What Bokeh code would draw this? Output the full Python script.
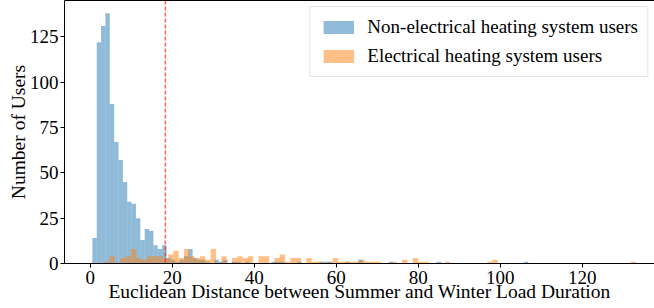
import numpy as np
from bokeh.plotting import figure
from bokeh.models import Range1d, LinearAxis, Span, Legend, LegendItem, FixedTicker, ColumnDataSource
from bokeh.embed import file_html
from bokeh.resources import INLINE

# ---------------- data ----------------
x_ticks = [0, 20, 40, 60, 80, 100, 120]
y_ticks = [0, 25, 50, 75, 100, 125]

threshold = 18.3

blue_bin_start = 0.5
blue_bin_width = 1.063
blue_counts = [
    14, 122, 131, 138, 88, 67, 57, 45, 34, 33,
    25, 13, 19, 18, 10, 8, 10, 3, 2, 1,
    2, 4, 8, 3, 2, 2, 1, 0, 2, 1,
    2, 0, 1, 1, 0, 1, 0, 0, 0, 0,
    0, 1, 1, 1, 0, 0, 0, 1, 0, 0,
    0, 0, 1, 1, 1, 0, 0, 0, 1, 0,
    0, 2, 0, 0, 0, 0, 0, 0, 1, 0,
    0, 0, 0, 0, 0, 0, 0, 0, 0, 1,
    0, 0, 0, 0, 0, 0, 0, 0, 0, 0,
    0, 0, 0, 0, 0, 0, 0, 0, 0, 1,
]

orange_bin_start = 3.4
orange_bin_width = 1.297
orange_counts = [
    1, 4, 0, 3, 4, 8, 3, 2, 4, 4,
    4, 3, 5, 7, 3, 8, 4, 3, 4, 2,
    8, 0, 4, 0, 3, 4, 3, 4, 0, 4,
    4, 0, 3, 5, 1, 3, 3, 0, 3, 1,
    1, 0, 1, 3, 1, 1, 1, 1, 2, 1,
    1, 1, 0, 0, 1, 0, 2, 0, 3, 1,
    1, 0, 0, 0, 1, 0, 0, 0, 0, 0,
    0, 0, 1, 2, 0, 0, 0, 0, 0, 0,
    0, 0, 0, 0, 0, 0, 0, 0, 0, 0,
    0, 0, 0, 0, 0, 0, 0, 0, 0, 1,
]

labels = ["Non-electrical heating system users", "Electrical heating system users"]

# ---------------- build ----------------
FONT = "'Liberation Serif', serif"

def hist_source(start, width, counts):
    counts = np.array(counts, dtype=float)
    n = len(counts)
    left = start + width * np.arange(n)
    return ColumnDataSource(dict(left=left, right=left + width, top=counts, bottom=np.zeros(n)))

src_b = hist_source(blue_bin_start, blue_bin_width, blue_counts)
src_o = hist_source(orange_bin_start, orange_bin_width, orange_counts)

p = figure(width=654, height=308, output_backend="svg", toolbar_location=None,
           x_range=Range1d(-6.3, 137.6), y_range=Range1d(0, 145),
           min_border_left=64, min_border_right=0, min_border_top=0, min_border_bottom=45)
p.grid.visible = False
p.outline_line_color = None
p.background_fill_color = "white"
p.border_fill_color = "white"

rb = p.quad(left="left", right="right", top="top", bottom="bottom", source=src_b,
            fill_color="#1f77b4", fill_alpha=0.5, line_color=None)
ro = p.quad(left="left", right="right", top="top", bottom="bottom", source=src_o,
            fill_color="#ff7f0e", fill_alpha=0.5, line_color=None)

p.add_layout(Span(location=threshold, dimension="height", line_color="red",
                  line_alpha=0.6, line_width=1.6, line_dash="4 2"))

for ax in (p.xaxis[0], p.yaxis[0]):
    ax.major_label_text_font = FONT
    ax.major_label_text_font_size = "19px"
    ax.major_label_text_color = "black"
    ax.axis_label_text_font = FONT
    ax.axis_label_text_font_size = "19.5px"
    ax.axis_label_text_font_style = "normal"
    ax.axis_label_text_color = "black"
    ax.axis_line_color = "black"
    ax.major_tick_line_color = "black"
    ax.major_tick_in = 0
    ax.major_tick_out = 4
    ax.minor_tick_line_color = None

p.xaxis.ticker = FixedTicker(ticks=x_ticks)
p.yaxis.ticker = FixedTicker(ticks=y_ticks)
p.xaxis.axis_label = "Euclidean Distance between Summer and Winter Load Duration"
p.yaxis.axis_label = "Number of Users"
p.xaxis.major_label_standoff = 3
p.xaxis.axis_label_standoff = -6
p.yaxis.major_label_standoff = 2
p.yaxis.axis_label_standoff = -2

top_axis = LinearAxis(axis_line_color="black", major_tick_line_color=None,
                      minor_tick_line_color=None, major_label_text_font_size="0px",
                      major_label_standoff=0, ticker=FixedTicker(ticks=[]))
p.add_layout(top_axis, "above")

legend = Legend(items=[LegendItem(label=labels[0], renderers=[rb]),
                       LegendItem(label=labels[1], renderers=[ro])],
                location="top_right",
                label_text_font=FONT, label_text_font_size="19px", label_text_color="black",
                glyph_width=38, glyph_height=16, spacing=7, padding=9, margin=6,
                label_standoff=10,
                border_line_color="#cccccc", border_line_width=1,
                background_fill_color="white", background_fill_alpha=0.8)
p.add_layout(legend)

open("out.html", "w").write(file_html(p, INLINE))
